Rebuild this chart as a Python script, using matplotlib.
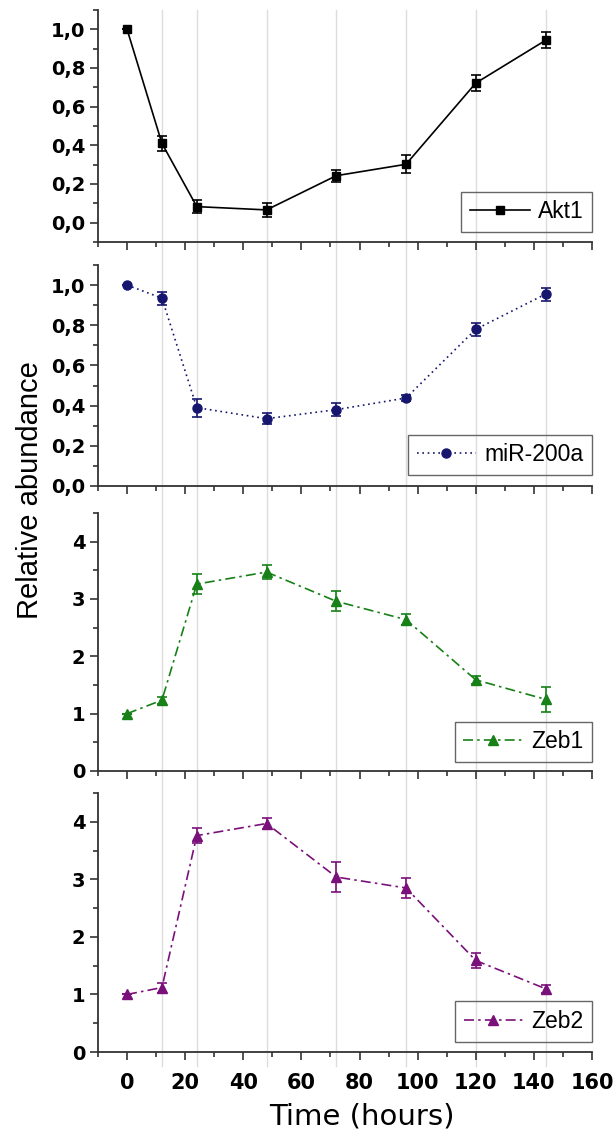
import matplotlib
matplotlib.use("Agg")
import matplotlib.pyplot as plt
from matplotlib.lines import Line2D
from matplotlib.ticker import MultipleLocator, FuncFormatter
from matplotlib.transforms import blended_transform_factory

# data
hours = [0, 12, 24, 48, 72, 96, 120, 144]

akt1 = [1.0, 0.41, 0.083, 0.066, 0.243, 0.302, 0.722, 0.943]
akt1_err = [0.0, 0.039, 0.035, 0.037, 0.031, 0.047, 0.042, 0.042]

mir200a = [1.0, 0.935, 0.39, 0.335, 0.38, 0.438, 0.78, 0.955]
mir200a_err = [0.0, 0.033, 0.045, 0.027, 0.032, 0.015, 0.033, 0.033]

zeb1 = [1.0, 1.236, 3.26, 3.47, 2.96, 2.64, 1.59, 1.25]
zeb1_err = [0.0, 0.06, 0.175, 0.12, 0.175, 0.1, 0.075, 0.22]

zeb2 = [1.0, 1.12, 3.76, 3.97, 3.04, 2.85, 1.59, 1.1]
zeb2_err = [0.0, 0.087, 0.13, 0.1, 0.256, 0.18, 0.13, 0.07]

grid_hours = [12, 24, 48, 72, 96, 120, 144]

W, H = 613, 1137
fig = plt.figure(figsize=(W / 100, H / 100), dpi=100)

def px_axes(top, bottom, left=98, right=592):
    return [left / W, 1 - bottom / H, (right - left) / W, (bottom - top) / H]

panels = [
    dict(rect=px_axes(10, 242), y=akt1, err=akt1_err, label="Akt1", color="black",
         ls="-", marker="s", ms=6, ylim=(-0.1, 1.1), major=0.2, minor=0.1, comma=True, leg_y=0.043),
    dict(rect=px_axes(265, 486), y=mir200a, err=mir200a_err, label="miR-200a", color="#16166e",
         ls=(0, (1, 2.2)), marker="o", ms=6.5, ylim=(0, 1.1), major=0.2, minor=0.1, comma=True, leg_y=0.05),
    dict(rect=px_axes(513, 771), y=zeb1, err=zeb1_err, label="Zeb1", color="#178017",
         ls=(0, (6, 2.5, 1.5, 2.5)), marker="^", ms=7.5, ylim=(0, 4.5), major=1, minor=0.5, comma=False, leg_y=0.035),
    dict(rect=px_axes(793, 1052), y=zeb2, err=zeb2_err, label="Zeb2", color="#7a117a",
         ls=(0, (6, 2.5, 1.5, 2.5)), marker="^", ms=7.5, ylim=(0, 4.5), major=1, minor=0.5, comma=False, leg_y=0.039),
]

spine_col = "#333333"
axes = []
for i, p in enumerate(panels):
    ax = fig.add_axes(p["rect"])
    ax.patch.set_alpha(0)
    ax.errorbar(hours, p["y"], yerr=p["err"], fmt="none", ecolor=p["color"],
                elinewidth=1.2, capsize=3.5, capthick=1.2, zorder=3)
    ax.plot(hours, p["y"], color=p["color"], linestyle=p["ls"], linewidth=1.2,
            marker=p["marker"], markersize=p["ms"], label=p["label"], zorder=4)
    ax.set_xlim(-10, 160)
    ax.set_ylim(*p["ylim"])
    ax.xaxis.set_major_locator(MultipleLocator(20))
    ax.xaxis.set_minor_locator(MultipleLocator(10))
    ax.yaxis.set_major_locator(MultipleLocator(p["major"]))
    ax.yaxis.set_minor_locator(MultipleLocator(p["minor"]))
    if p["comma"]:
        ax.yaxis.set_major_formatter(FuncFormatter(lambda v, pos: f"{v:.1f}".replace(".", ",")))
    else:
        ax.yaxis.set_major_formatter(FuncFormatter(lambda v, pos: f"{v:.0f}"))
    for s in ["top", "right"]:
        ax.spines[s].set_visible(False)
    for s in ["left", "bottom"]:
        ax.spines[s].set_color(spine_col)
        ax.spines[s].set_linewidth(1.3)
    ax.tick_params(which="major", direction="out", length=6, width=1.2, color=spine_col)
    ax.tick_params(which="minor", direction="out", length=3.5, width=1.2, color=spine_col)
    ax.tick_params(axis="y", which="major", pad=3, labelsize=14)
    ax.tick_params(axis="x", which="major", pad=9, labelsize=15)
    for t in ax.get_yticklabels():
        t.set_fontfamily("DejaVu Sans")
        t.set_fontweight("bold")
    if i < 3:
        ax.tick_params(axis="x", labelbottom=False)
    else:
        for t in ax.get_xticklabels():
            t.set_fontfamily("DejaVu Sans")
            t.set_fontweight("bold")
    leg = ax.legend(loc="lower right", bbox_to_anchor=(1.0, p["leg_y"]), borderaxespad=0,
                    fancybox=False, edgecolor="#666666", facecolor="none", framealpha=1,
                    handlelength=2.6, handletextpad=0.35, borderpad=0.38,
                    prop={"family": "Liberation Sans", "size": 16.5})
    leg.get_frame().set_linewidth(1.0)
    axes.append(ax)

# light vertical guide lines running through all panels
trans = blended_transform_factory(axes[-1].transData, fig.transFigure)
for h in grid_hours:
    fig.add_artist(Line2D([h, h], [1 - 10 / H, 1 - 1066 / H], transform=trans,
                          color="#dcdcdc", linewidth=1.0, zorder=-1))

fig.text(30 / W, 1 - 490 / H, "Relative abundance", rotation=90, ha="center", va="center",
         fontsize=21, family="Liberation Sans")
fig.text(362 / W, 1 - 1117 / H, "Time (hours)", ha="center", va="center",
         fontsize=21, family="DejaVu Sans")

fig.savefig("out.png", dpi=100)
